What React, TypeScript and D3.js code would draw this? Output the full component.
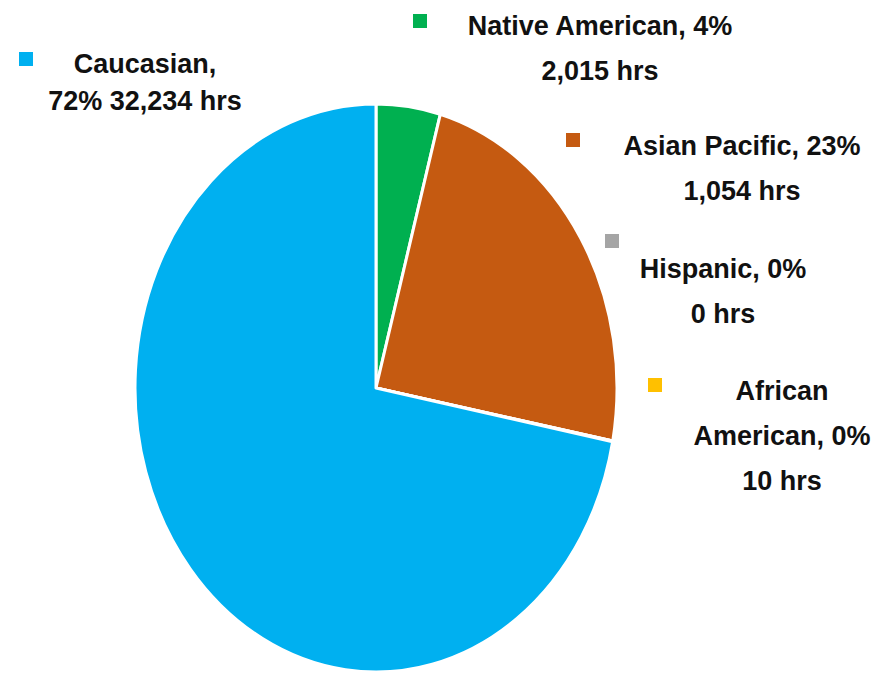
import { useEffect, useRef } from 'react';
import * as d3 from 'd3';

// slice order runs clockwise from 12 o'clock
const groups = ['Native American', 'Asian Pacific', 'Hispanic', 'African American', 'Caucasian'];
const shares = [4.3, 23.7, 0, 0.05, 72];
const colors = ['#00B050', '#C55A11', '#A5A5A5', '#FFC000', '#00B0F0'];
const labelLines = [
  ['Native American, 4%', '2,015 hrs'],
  ['Asian Pacific, 23%', '1,054 hrs'],
  ['Hispanic, 0%', '0 hrs'],
  ['African', 'American, 0%', '10 hrs'],
  ['Caucasian,', '72% 32,234 hrs'],
];

// legend placement: marker square and centred text block
const labelPos = [
  { mx: 413, my: 14, tx: 600, ty: 35, lh: 45 },
  { mx: 566, my: 133, tx: 742, ty: 155, lh: 45 },
  { mx: 605, my: 234, tx: 723, ty: 278, lh: 45 },
  { mx: 648, my: 378, tx: 782, ty: 400, lh: 45 },
  { mx: 19, my: 52, tx: 145, ty: 73, lh: 37 },
];

const App = () => {
  const svgRef = useRef<SVGSVGElement>(null);
  const width = 892;
  const height = 673;

  useEffect(() => {
    if (!svgRef.current) return;
    const svg = d3.select(svgRef.current);
    svg.selectAll('*').remove();

    const cx = 376;
    const cy = 388;
    const rx = 241;
    const ry = 284;

    const pie = d3.pie<number>().sort(null).value(d => d);
    const arc = d3.arc<d3.PieArcDatum<number>>().innerRadius(0).outerRadius(rx);

    const g = svg.append('g')
      .attr('transform', `translate(${cx},${cy}) scale(1,${ry / rx})`);

    g.selectAll('path')
      .data(pie(shares))
      .enter().append('path')
      .attr('d', arc)
      .attr('fill', (_, i) => colors[i])
      .attr('stroke', '#fff')
      .attr('stroke-width', 3)
      .attr('vector-effect', 'non-scaling-stroke')
      .attr('stroke-linejoin', 'round');

    const legend = svg.append('g');
    groups.forEach((name, i) => {
      const p = labelPos[i];
      legend.append('rect')
        .attr('x', p.mx)
        .attr('y', p.my)
        .attr('width', 14)
        .attr('height', 14)
        .attr('fill', colors[i]);
      const t = legend.append('text')
        .attr('text-anchor', 'middle')
        .attr('font-family', '"Liberation Sans", Arial, sans-serif')
        .attr('font-weight', 'bold')
        .attr('font-size', 27)
        .attr('fill', '#111')
        .attr('data-name', name);
      labelLines[i].forEach((line, j) => {
        t.append('tspan')
          .attr('x', p.tx)
          .attr('y', p.ty + j * p.lh)
          .text(line);
      });
    });
  }, []);

  return (
    <svg
      ref={svgRef}
      width={width}
      height={height}
      style={{ position: 'absolute', left: 0, top: 0, background: '#fff' }}
    />
  );
};

export default App;
